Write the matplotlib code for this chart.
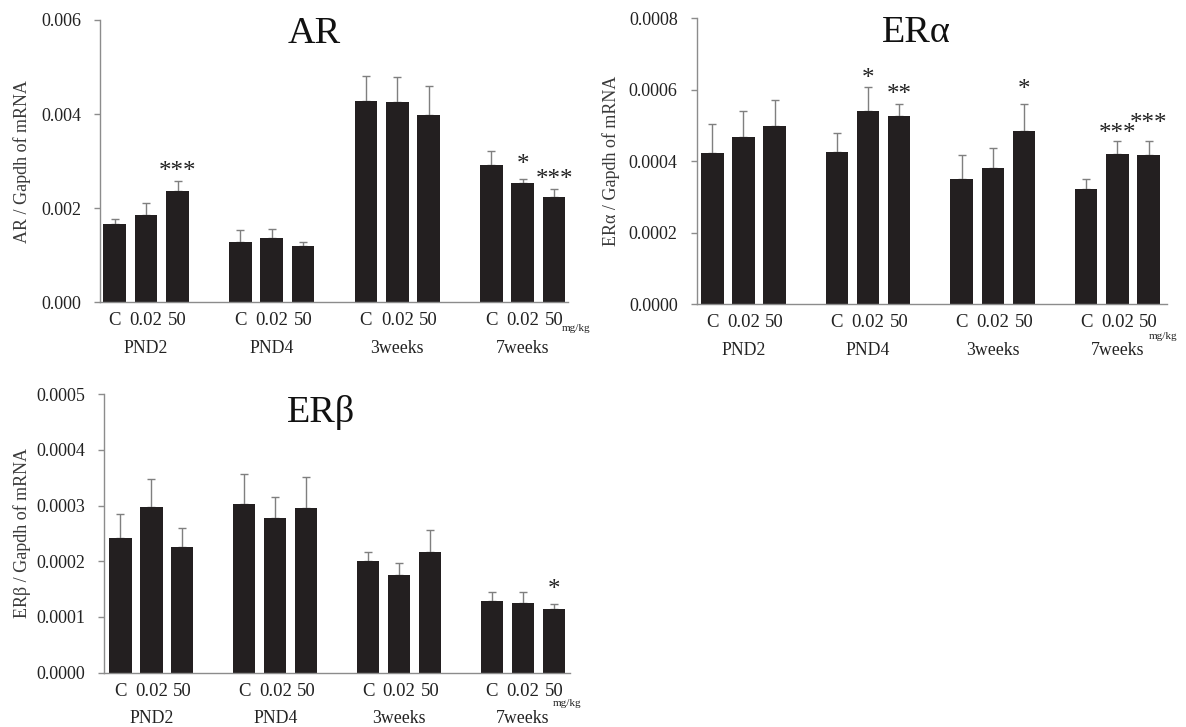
import matplotlib
matplotlib.use("Agg")
import matplotlib.pyplot as plt
import numpy as np

plt.rcParams['font.family'] = ['Liberation Serif', 'DejaVu Serif']

groups = ["PND2", "PND4", "3weeks", "7weeks"]
doses = ["C", "0.02", "50"]

# AR / Gapdh (mean, upper error bar = sem)
ar_mean = [0.00167, 0.00185, 0.00237,
           0.00129, 0.00137, 0.00119,
           0.00428, 0.00425, 0.00398,
           0.00291, 0.00254, 0.00223]
ar_sem = [0.00011, 0.00026, 0.00020,
          0.00025, 0.00018, 0.00009,
          0.00053, 0.00053, 0.00061,
          0.00030, 0.00009, 0.00018]

# ERalpha / Gapdh
era_mean = [0.000424, 0.000468, 0.000498,
            0.000425, 0.000542, 0.000526,
            0.000351, 0.000382, 0.000484,
            0.000322, 0.000421, 0.000418]
era_sem = [0.000079, 0.000073, 0.000073,
           0.000054, 0.000065, 0.000034,
           0.000067, 0.000054, 0.000077,
           0.000029, 0.000036, 0.000039]

# ERbeta / Gapdh
erb_mean = [0.000241, 0.000297, 0.000226,
            0.000302, 0.000277, 0.000295,
            0.000200, 0.000175, 0.000216,
            0.000129, 0.000125, 0.000114]
erb_sem = [0.000043, 0.000050, 0.000033,
           0.000055, 0.000038, 0.000057,
           0.000017, 0.000021, 0.000041,
           0.000016, 0.000020, 0.000010]

# significance marks: (group index, dose index, label)
ar_sig = [(0, 2, "***"), (3, 1, "*"), (3, 2, "***")]
era_sig = [(1, 1, "*"), (1, 2, "**"), (2, 2, "*"), (3, 1, "***"), (3, 2, "***")]
erb_sig = [(3, 2, "*")]

# gap (pixels) between error bar top and mark centre
ar_gap = [16, 21, 16]
era_gap = [15, 16.5, 21, 13.5, 23.5]
erb_gap = [21]

W, H = 1186, 727
fig = plt.figure(figsize=(W / 100, H / 100), dpi=100)

BAR = "#231f20"
ERRC = "#7f7f7f"
SPINE = "#8c8c8c"
TXT = "#222222"
PX = 0.72  # points per pixel
STAR_FS = 18


def panel(rect_px, means, sems, sig, gaps, ymax, yticks, fmt, title, tpos,
          ylab, ylab_x, xlim, mg_dx, mg_dy):
    l, t, r, b = rect_px
    ax = fig.add_axes([l / W, 1 - b / H, (r - l) / W, (b - t) / H])
    pos = [g * (len(doses) + 1) + d for g in range(len(groups)) for d in range(len(doses))]
    ax.bar(pos, means, width=0.72, color=BAR, edgecolor="none", zorder=2)
    ax.errorbar(pos, means, yerr=[np.zeros(len(sems)), sems], fmt="none",
                ecolor=ERRC, elinewidth=1.0, capsize=3.2, capthick=1.0, zorder=1)
    ax.set_xlim(*xlim)
    ax.set_ylim(0, ymax)
    ax.set_yticks(yticks)
    ax.set_yticklabels([fmt.format(v) for v in yticks])
    ax.set_xticks(pos)
    ax.set_xticklabels(doses * len(groups))
    for s in ["top", "right"]:
        ax.spines[s].set_visible(False)
    for s in ["left", "bottom"]:
        ax.spines[s].set_color(SPINE)
        ax.spines[s].set_linewidth(1.0)
    ax.tick_params(axis="x", length=0, pad=7.2, labelsize=13.5, labelcolor=TXT)
    ax.tick_params(axis="y", length=4.2, width=1.0, color=SPINE, pad=9.5,
                   labelsize=13, labelcolor=TXT)
    for g, name in enumerate(groups):
        cx = g * (len(doses) + 1) + (len(doses) - 1) / 2
        ax.annotate(name, xy=(cx, 0), xycoords=("data", "axes fraction"),
                    xytext=(0, -27.3), textcoords="offset points",
                    ha="center", va="top", fontsize=12.8, color=TXT)
    ax.annotate("mg/kg", xy=(pos[-1], 0), xycoords=("data", "axes fraction"),
                xytext=(mg_dx * PX, -mg_dy * PX), textcoords="offset points",
                ha="left", va="center", fontsize=8, color=TXT)
    for (g, d, lab), gap in zip(sig, gaps):
        i = g * len(doses) + d
        ax.annotate(lab, xy=(pos[i], means[i] + sems[i]),
                    xytext=(0, (gap - 13) * PX), textcoords="offset points",
                    ha="center", va="baseline", fontsize=STAR_FS, color=TXT)
    ax.text(tpos[0], tpos[1], title, transform=ax.transAxes, ha="center",
            va="center", fontsize=27.5, color="#111111")
    ax.text(ylab_x, 0.5, ylab, transform=ax.transAxes, rotation=90,
            ha="center", va="center", fontsize=13, color="#3a3a3a")
    return ax


panel((100, 20, 568.3, 302.3), ar_mean, ar_sem, ar_sig, ar_gap, 0.006,
      [0, 0.002, 0.004, 0.006], "{:.3f}", "AR", (0.457, 0.953),
      "AR / Gapdh of mRNA", -0.167, (-0.47, 14.45), 8, 26)

panel((696.7, 18.3, 1167.3, 304.3), era_mean, era_sem, era_sig, era_gap, 0.0008,
      [0, 0.0002, 0.0004, 0.0006, 0.0008], "{:.4f}", "ERα", (0.467, 0.950),
      "ERα / Gapdh of mRNA", -0.181, (-0.5, 14.6), 0, 32)

panel((104.3, 394.3, 570, 672.5), erb_mean, erb_sem, erb_sig, erb_gap, 0.0005,
      [0, 0.0001, 0.0002, 0.0003, 0.0004, 0.0005], "{:.4f}", "ERβ", (0.465, 0.935),
      "ERβ / Gapdh of mRNA", -0.177, (-0.52, 14.52), -1, 31)

fig.savefig("out.png", dpi=100)
